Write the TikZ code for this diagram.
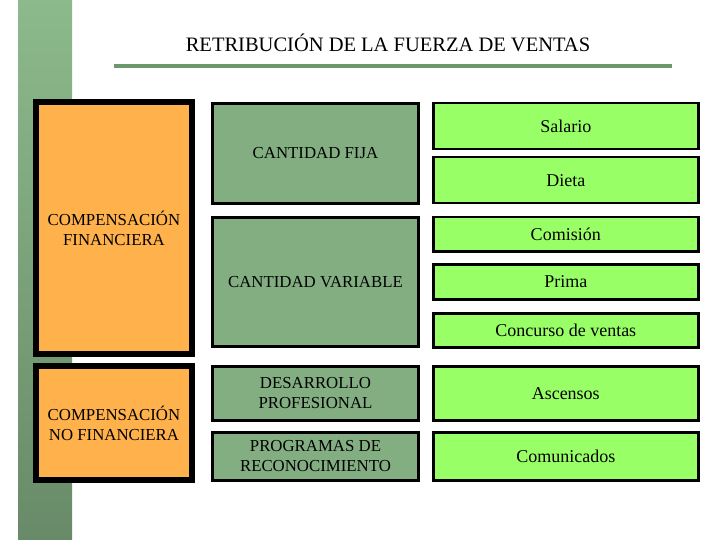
\documentclass[tikz,border=0pt]{standalone}
\usepackage{fontspec}
\setmainfont{Liberation Serif}
\usepackage{xcolor}
\definecolor{stripTop}{RGB}{140,186,140}
\definecolor{stripBot}{RGB}{104,138,104}
\definecolor{barGreen}{RGB}{108,152,108}
\definecolor{orangeFill}{RGB}{255,178,76}
\definecolor{sageFill}{RGB}{130,174,130}
\definecolor{limeFill}{RGB}{153,255,102}

\begin{document}
\begin{tikzpicture}[x=1pt,y=-1pt,
  compbox/.style={draw=black,line width=6pt,fill=orangeFill,anchor=north west,align=center,inner sep=2pt,font=\fontsize{16.8}{20}\selectfont,minimum width=156pt},
  typebox/.style={draw=black,line width=3pt,fill=sageFill,anchor=north west,align=center,inner sep=2pt,font=\fontsize{16.8}{20}\selectfont,minimum width=206pt},
  itembox/.style={draw=black,line width=2.5pt,fill=limeFill,anchor=north west,align=center,inner sep=2pt,font=\fontsize{18}{20}\selectfont,minimum width=265pt}]
\useasboundingbox (0,0) rectangle (720,540);
\shade[top color=stripTop,bottom color=stripBot] (18,0) rectangle (72,540);
\node[font=\fontsize{20.5}{22}\selectfont] (title) at (388,43) {RETRIBUCIÓN DE LA FUERZA DE VENTAS};
\fill[barGreen] (114,64) rectangle (672,68.5);
% compensacion
\node[compbox,minimum height=252pt] (fin) at (33,99) {COMPENSACIÓN\\FINANCIERA};
\node[compbox,minimum height=114pt] (nofin) at (33,363) {COMPENSACIÓN\\NO FINANCIERA};
% tipos
\node[typebox,minimum height=100pt] (fija) at (211,102) {CANTIDAD FIJA};
\node[typebox,minimum height=129pt] (variable) at (211,216) {CANTIDAD VARIABLE};
\node[typebox,minimum height=54pt] (desarrollo) at (211,365) {DESARROLLO\\PROFESIONAL};
\node[typebox,minimum height=48pt] (programas) at (211,431) {PROGRAMAS DE\\RECONOCIMIENTO};
% elementos
\node[itembox,minimum height=46pt] (salario) at (432,102) {Salario};
\node[itembox,minimum height=46pt] (dieta) at (432,156) {Dieta};
\node[itembox,minimum height=34pt] (comision) at (432,216) {Comisión};
\node[itembox,minimum height=35pt] (prima) at (432,263) {Prima};
\node[itembox,minimum height=34pt] (concurso) at (432,312) {Concurso de ventas};
\node[itembox,minimum height=54pt] (ascensos) at (432,365) {Ascensos};
\node[itembox,minimum height=48pt] (comunicados) at (432,431) {Comunicados};
\end{tikzpicture}
\end{document}
